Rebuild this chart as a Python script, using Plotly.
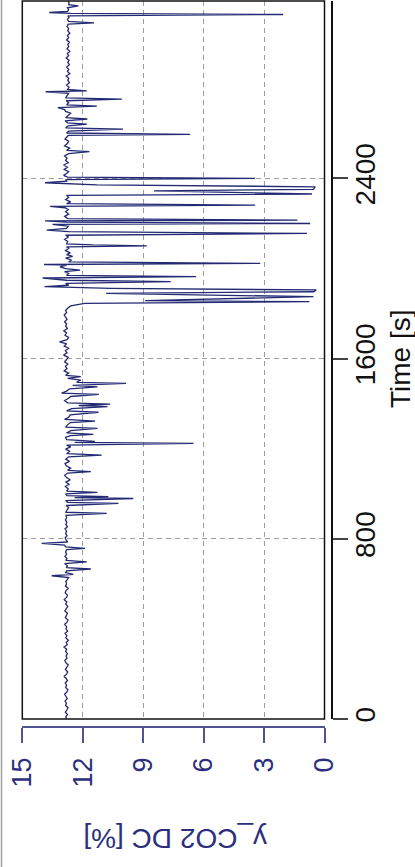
import plotly.graph_objects as go

# ---- data: time [s] and y_CO2 DC [%] ----
t_flat = [0, 10, 20, 30, 40, 50, 60, 70, 80, 90, 100, 110, 120, 130, 140, 150, 160, 170, 180, 190,
          200, 210, 220, 230, 240, 250, 260, 270, 280, 290, 300, 310, 320, 330, 340, 350, 360, 370,
          380, 390, 400, 410, 420, 430, 440, 450, 460, 470, 480, 490, 500, 510, 520, 530, 540, 550,
          560, 570, 580, 590, 600, 610, 620]
v_flat = [12.80, 12.84, 12.76, 12.86, 12.79, 12.73, 12.85, 12.81, 12.88, 12.77, 12.83, 12.90, 12.78,
          12.74, 12.85, 12.80, 12.87, 12.76, 12.82, 12.92, 12.79, 12.75, 12.86, 12.81, 12.72, 12.84,
          12.89, 12.78, 12.83, 12.76, 12.85, 12.80, 12.93, 12.77, 12.82, 12.71, 12.84, 12.79, 12.88,
          12.75, 12.83, 12.80, 12.90, 12.78, 12.73, 12.86, 12.81, 12.76, 12.89, 12.82, 12.74, 12.85,
          12.79, 12.92, 12.80, 12.76, 12.87, 12.83, 12.72, 12.86, 12.80, 12.84, 12.77]

t_early = [628, 636, 642, 650, 658, 666, 672, 680, 690, 698, 704, 712, 722, 732, 742, 752, 758, 764,
           772, 780, 786, 794, 804, 814, 824, 834, 844, 854, 864, 874, 884, 894, 904, 913, 918, 928,
           938, 948, 957, 962, 970, 979, 983, 987, 992, 1000, 1006, 1012, 1022, 1032, 1042, 1052,
           1062, 1072, 1082, 1092, 1098, 1104, 1114, 1124, 1134, 1144, 1154, 1164, 1172, 1178, 1188,
           1198, 1208, 1216, 1224, 1228, 1233, 1240]
v_early = [12.70, 13.54, 12.47, 12.85, 12.80, 11.60, 12.82, 12.76, 12.90, 11.80, 12.84, 12.78, 12.88,
           12.80, 12.85, 12.80, 11.89, 12.85, 12.90, 14.04, 12.75, 12.82, 12.87, 12.78, 12.85, 12.80,
           12.88, 12.76, 12.84, 12.79, 12.86, 12.80, 12.83, 10.81, 12.85, 12.78, 12.70, 12.82, 10.23,
           12.75, 12.85, 9.49, 12.40, 10.73, 12.78, 12.85, 11.27, 12.80, 12.72, 12.86, 12.68, 12.85,
           12.62, 12.80, 12.90, 12.75, 11.60, 12.75, 12.60, 12.82, 12.88, 12.66, 12.84, 12.70, 11.06,
           12.80, 12.65, 12.85, 12.60, 12.80, 6.50, 12.40, 11.40, 12.80]

t_mid = [1250, 1258, 1264, 1270, 1280, 1290, 1296, 1306, 1316, 1323, 1330, 1340, 1350, 1362, 1368,
         1378, 1387, 1392, 1398, 1404, 1414, 1424, 1432, 1441, 1447, 1456, 1466, 1475, 1481, 1490,
         1495, 1505, 1512, 1520, 1526, 1536, 1546, 1556, 1566, 1576, 1586, 1596, 1606, 1616, 1626,
         1636, 1646, 1656, 1666, 1675, 1684, 1694, 1704, 1714, 1724, 1734, 1744, 1754, 1764, 1774,
         1784, 1794, 1804, 1814, 1824, 1834]
v_mid = [12.85, 12.60, 11.47, 12.80, 12.60, 11.27, 12.85, 12.75, 12.62, 11.39, 12.90, 12.70, 12.62,
         11.22, 12.80, 12.55, 10.77, 12.20, 10.64, 12.75, 12.90, 12.70, 12.60, 11.20, 13.05, 12.80,
         12.65, 11.27, 12.50, 9.85, 12.30, 12.10, 12.75, 12.10, 12.85, 12.70, 12.92, 12.78, 12.86,
         12.74, 12.90, 12.80, 12.72, 12.95, 12.78, 12.86, 12.70, 12.92, 12.80, 13.15, 12.78, 12.70,
         12.88, 12.80, 12.94, 12.76, 12.85, 12.80, 12.90, 12.78, 12.86, 12.92, 12.80, 12.85, 12.75,
         12.60]

t_drops = [1845, 1853, 1858, 1875, 1890, 1897, 1905, 1912, 1920, 1926, 1934, 1942, 1948, 1958, 1964,
           1970, 1978, 1986, 1993, 2000, 2008, 2015, 2018, 2023, 2030, 2038, 2046, 2054, 2062, 2070,
           2080, 2090, 2096, 2101, 2105, 2110, 2120, 2130, 2140, 2148, 2156, 2164, 2171, 2178, 2188,
           2196, 2200, 2206, 2212, 2215, 2222, 2232, 2242, 2252, 2262, 2270, 2276, 2282, 2288, 2296,
           2306, 2316, 2325, 2331, 2345, 2352, 2363, 2372, 2381, 2388, 2395, 2400]
v_drops = [11.90, 0.75, 8.90, 0.55, 10.84, 0.54, 0.41, 10.60, 13.90, 12.70, 12.85, 7.63, 12.80, 13.99,
           6.37, 12.80, 12.70, 12.90, 12.13, 12.85, 13.13, 12.80, 13.92, 3.19, 12.70, 12.55, 12.85,
           12.50, 12.80, 12.62, 12.85, 12.70, 12.80, 8.82, 11.50, 12.80, 12.75, 12.90, 12.70, 12.85,
           0.87, 12.70, 13.79, 12.80, 12.72, 13.50, 0.71, 12.80, 13.87, 1.34, 12.75, 12.90, 12.70,
           12.85, 12.72, 12.88, 13.62, 3.44, 12.80, 12.60, 12.85, 12.70, 12.80, 0.62, 8.46, 0.55,
           0.46, 11.30, 13.87, 12.80, 12.85, 3.44]

t_late = [2406, 2414, 2422, 2430, 2440, 2450, 2460, 2470, 2480, 2490, 2500, 2510, 2519, 2525, 2535,
          2545, 2555, 2565, 2575, 2585, 2591, 2596, 2602, 2610, 2619, 2625, 2634, 2641, 2647, 2656,
          2664, 2670, 2680, 2690, 2698, 2706, 2715, 2721, 2727, 2736, 2745, 2752, 2758, 2768, 2778,
          2785, 2789, 2795, 2805, 2815, 2825, 2835, 2845, 2855, 2865, 2875, 2885, 2895, 2905, 2915,
          2925, 2935, 2945, 2955, 2965, 2975, 2985, 2995, 3005, 3015, 3025, 3035, 3045, 3055, 3065,
          3075, 3085, 3091, 3097, 3106, 3115, 3122, 3128, 3133, 3137, 3142, 3150, 3158, 3166, 3172,
          3180, 3188]
v_late = [12.75, 12.95, 12.80, 12.70, 12.92, 12.76, 12.95, 12.72, 12.85, 12.78, 12.90, 12.70, 11.67,
          12.80, 12.65, 12.90, 12.76, 12.70, 12.88, 12.80, 12.72, 6.67, 12.80, 12.70, 10.00, 12.85,
          12.72, 11.80, 12.75, 12.88, 11.77, 12.85, 12.70, 12.60, 12.85, 12.90, 13.24, 11.30, 12.80,
          12.70, 12.82, 10.06, 12.85, 12.75, 12.70, 13.84, 11.80, 12.75, 12.68, 12.80, 12.66, 12.74,
          12.70, 12.82, 12.64, 12.76, 12.70, 12.80, 12.66, 12.74, 12.68, 12.82, 12.70, 12.76, 12.64,
          12.78, 12.70, 12.74, 12.66, 12.80, 12.70, 12.76, 12.64, 12.74, 12.70, 12.78, 12.72, 11.44,
          12.70, 12.76, 12.68, 12.74, 2.05, 12.60, 13.66, 12.75, 12.70, 12.76, 12.22, 12.70, 12.68,
          12.72]

time_s = t_flat + t_early + t_mid + t_drops + t_late
co2_pct = v_flat + v_early + v_mid + v_drops + v_late

time_ticks = [0, 800, 1600, 2400]
co2_ticks = [0, 3, 6, 9, 12, 15]
time_range = [0, 3188]
co2_range = [15, 0]

# ---- figure ----
W, H = 415, 867
FONT = "Liberation Sans, Arial, sans-serif"
NAVY_TXT = "#2b2f7d"
NAVY_AX = "#50558f"
GRID = "#9c9c9c"

fig = go.Figure()
fig.add_trace(go.Scatter(x=co2_pct, y=time_s, mode="lines",
                         line=dict(color="#232a73", width=1.3), showlegend=False,
                         hoverinfo="skip"))

fig.update_layout(
    template="none",
    width=W, height=H,
    margin=dict(l=0, r=0, t=0, b=0, pad=0),
    paper_bgcolor="white", plot_bgcolor="white",
    showlegend=False,
    xaxis=dict(
        range=co2_range, domain=[22.3 / W, 324.5 / W],
        anchor="free", position=1 - 727 / H,
        tickmode="array", tickvals=co2_ticks, ticktext=[str(v) for v in co2_ticks],
        tickangle=-90, ticks="outside", ticklen=15, tickwidth=1.5, tickcolor=NAVY_AX,
        ticklabelstandoff=4,
        tickfont=dict(family=FONT, size=27, color=NAVY_TXT),
        showline=True, linecolor=NAVY_AX, linewidth=1.5,
        showgrid=True, gridcolor=GRID, gridwidth=1.2, griddash="5px,4px",
        zeroline=False, automargin=False, fixedrange=True,
    ),
    yaxis=dict(
        range=time_range, domain=[1 - 719 / H, 1 - 1 / H],
        anchor="free", position=332 / W, side="right",
        tickmode="array", tickvals=time_ticks, ticktext=[str(v) for v in time_ticks],
        tickangle=-90, ticks="outside", ticklen=15, tickwidth=1.5, tickcolor="#444444",
        ticklabelstandoff=-6,
        tickfont=dict(family=FONT, size=28, color="#111111"),
        showline=True, linecolor="#111111", linewidth=1.5,
        showgrid=True, gridcolor=GRID, gridwidth=1.2, griddash="5px,4px",
        zeroline=False, automargin=False, fixedrange=True,
    ),
    shapes=[
        dict(type="rect", xref="x domain", yref="y domain", x0=0, x1=1, y0=0, y1=1,
             line=dict(color="#111111", width=1.5), layer="above"),
        dict(type="line", xref="paper", yref="paper", x0=1.5 / W, x1=1.5 / W, y0=0, y1=1,
             line=dict(color="#a0a0a0", width=1.5)),
    ],
    annotations=[
        dict(text="Time [s]", xref="paper", yref="paper", x=400 / W, y=1 - 359 / H,
             showarrow=False, textangle=-90, xanchor="center", yanchor="middle",
             font=dict(family=FONT, size=28, color="#111111")),
        dict(text="y_CO2 DC [%]", xref="paper", yref="paper", x=175 / W, y=1 - 839 / H,
             showarrow=False, textangle=180, xanchor="center", yanchor="middle",
             font=dict(family=FONT, size=28, color=NAVY_TXT)),
    ],
)

fig.write_html("out.html", config={"displayModeBar": False},
               post_script="document.body.style.margin='0';")
